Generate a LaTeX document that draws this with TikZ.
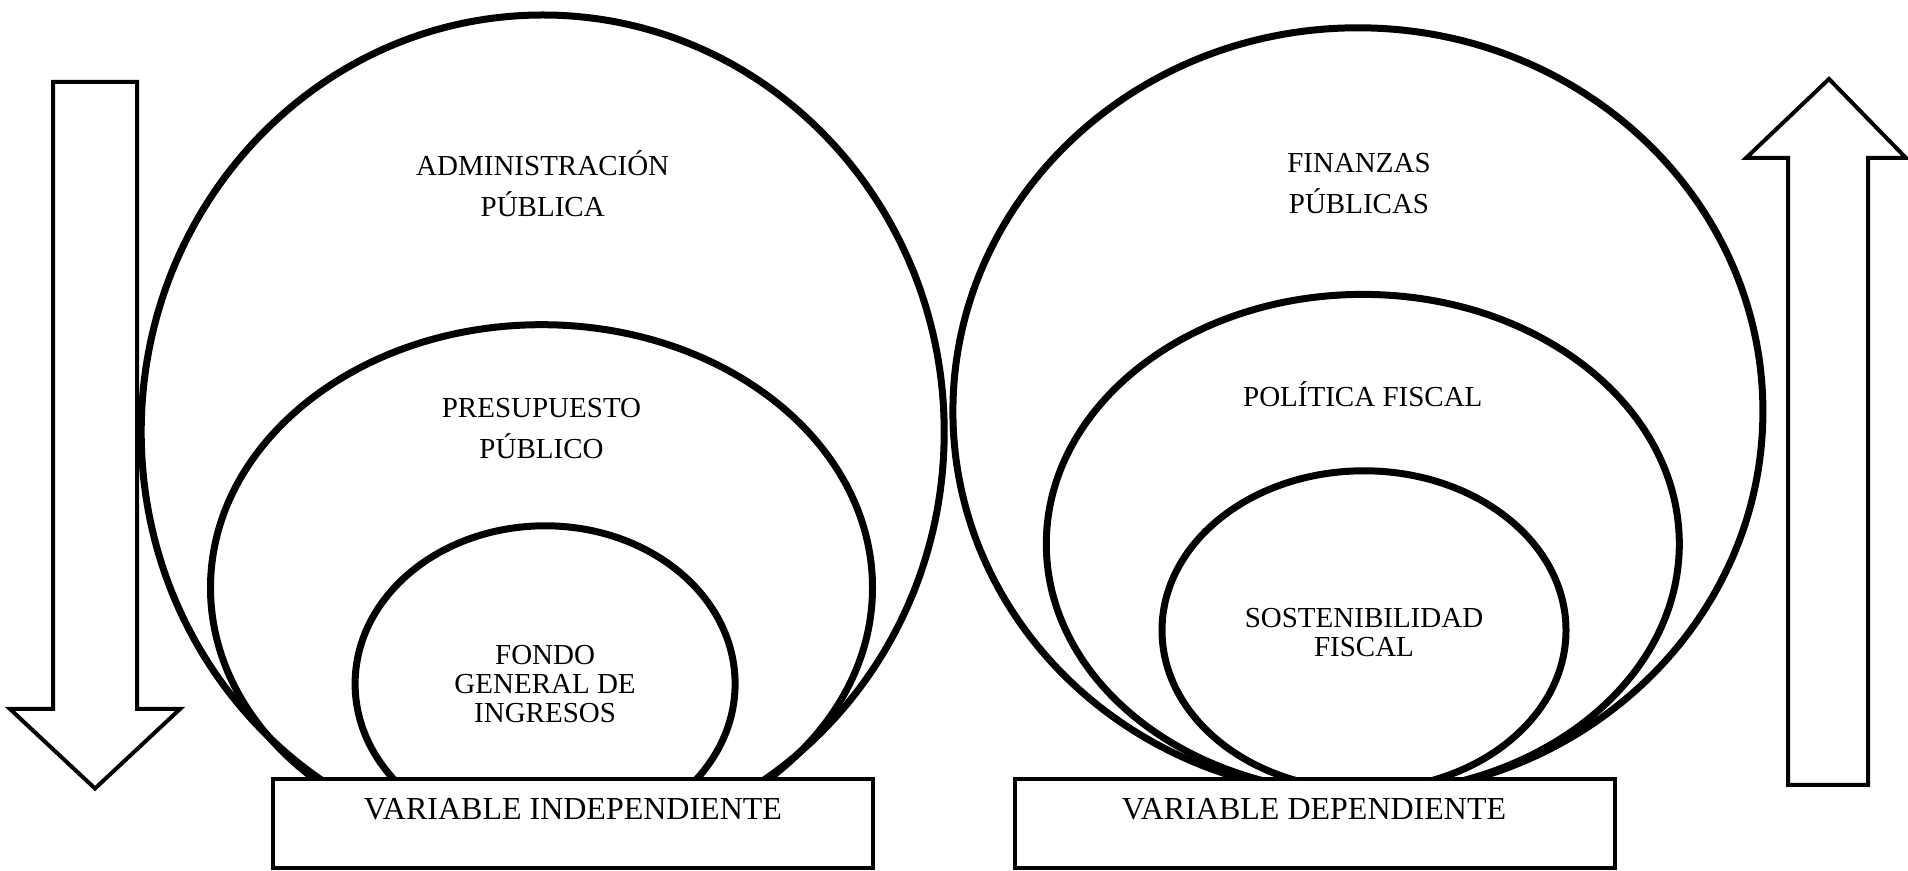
\documentclass[tikz,border=0pt]{standalone}
\usepackage{fontspec}
\setmainfont{Liberation Serif}
\usetikzlibrary{shapes.geometric}

\begin{document}
\begin{tikzpicture}[x=1pt, y=1pt,
    ring/.style={draw, ellipse, line width=7pt, inner sep=0pt},
    varbox/.style={draw, rectangle, fill=white, line width=4pt, minimum width=600pt, minimum height=89pt, inner sep=0pt},
    ringtext/.style={align=center, font=\fontsize{29}{41}\selectfont},
    tighttext/.style={align=center, font=\fontsize{29}{29}\selectfont},
    boxtext/.style={font=\fontsize{32}{36}\selectfont},
    hollowarrow/.style={draw, line width=4pt, line join=miter, fill=white}]
    \useasboundingbox (0,0) rectangle (1908,870);

    % Arrow pointing down on the left
    \draw[hollowarrow] (53,788) -- (137,788) -- (137,161) -- (180,161) -- (95,81.5) -- (10,161) -- (53,161) -- cycle;

    % Arrow pointing up on the right
    \draw[hollowarrow] (1788,85) -- (1868,85) -- (1868,712) -- (1906,712) -- (1829,791) -- (1746,712) -- (1788,712) -- cycle;

    % Rings of the independent variable
    \node[ring, minimum width=803pt, minimum height=834pt] (Admin) at (542.7,438) {};
    \node[ring, minimum width=662pt, minimum height=526pt] (Presup) at (541.5,282.3) {};
    \node[ring, minimum width=380pt, minimum height=316pt] (Fondo) at (545.1,186.2) {};

    % Rings of the dependent variable
    \node[ring, minimum width=810pt, minimum height=767pt] (Finanzas) at (1357.9,458.7) {};
    \node[ring, minimum width=633pt, minimum height=499pt] (Politica) at (1362.8,326.1) {};
    \node[ring, minimum width=404pt, minimum height=319pt] (Sosten) at (1364,239.7) {};

    % Labels inside the rings
    \node[ringtext] (AdminText) at (542.7,686.3) {ADMINISTRACIÓN\\PÚBLICA};
    \node[ringtext] (PresupText) at (541.5,441.7) {PRESUPUESTO\\PÚBLICO};
    \node[tighttext] (FondoText) at (545.1,186) {FONDO\\GENERAL DE\\INGRESOS};
    \node[ringtext] (FinanzasText) at (1359,686.9) {FINANZAS\\PÚBLICAS};
    \node[ringtext] (PoliticaText) at (1362.8,475.8) {POLÍTICA FISCAL};
    \node[tighttext] (SostenText) at (1364,237.9) {SOSTENIBILIDAD\\FISCAL};

    % Boxes naming the variables
    \node[varbox] (BoxInd) at (572.5,46.5) {};
    \node[boxtext] (IndText) at (573,61) {VARIABLE INDEPENDIENTE};
    \node[varbox] (BoxDep) at (1314.7,46.5) {};
    \node[boxtext] (DepText) at (1314,61) {VARIABLE DEPENDIENTE};

\end{tikzpicture}
\end{document}
